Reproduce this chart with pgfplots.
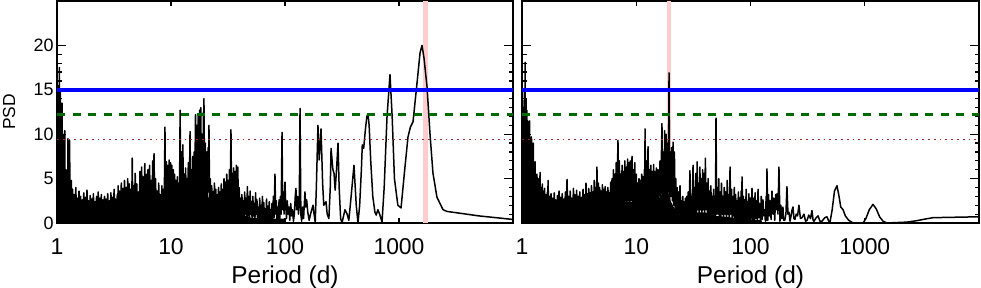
\documentclass[border=0pt]{standalone}
\usepackage{fontspec}
\setmainfont{Liberation Sans}
\usepackage{pgfplots}
\pgfplotsset{compat=1.18}
\definecolor{bandpink}{RGB}{255,205,205}
\definecolor{lvlblue}{RGB}{0,0,255}
\definecolor{lvlgreen}{RGB}{0,105,0}
\definecolor{lvlred}{RGB}{160,40,40}
\pgfplotsset{
 psdaxis/.style={
  scale only axis, height=222bp,
  xmin=0, xmax=4, ymin=0, ymax=25,
  xtick={0,1,2,3}, xticklabels={1,10,100,1000},
  ytick={0,5,10,15,20},
  minor y tick num=4,
  tick align=inside,
  major tick length=9bp, minor tick length=4.5bp,
  xtick style={/pgfplots/major tick length=5bp},
  axis line style={line width=1.4bp},
  tick style={line width=1.2bp, black},
  xticklabel style={font=\fontsize{23}{23}\selectfont, anchor=base, yshift=-31bp},
  yticklabel style={font=\fontsize{18}{18}\selectfont},
  xlabel={Period (d)},
  every axis x label/.style={at={(axis description cs:0.5,-0.2703)}, anchor=base, font=\fontsize{24.5}{24.5}\selectfont},
  no markers, clip=true,
 },
}
\begin{document}
\begin{tikzpicture}
\useasboundingbox (0,0) rectangle (981bp,288bp);
% ---------------- left panel ----------------
\begin{axis}[psdaxis, at={(57bp,65bp)}, anchor=south west, width=456bp,
  yticklabels={0,5,10,15,20},
  ylabel={PSD},
  every axis y label/.style={at={(axis description cs:-0.0921,0.5)}, rotate=90, anchor=base, font=\fontsize{17.5}{17.5}\selectfont}]
\addplot[draw=none, fill=bandpink] coordinates {(3.211,25)(3.254,25)} \closedcycle;
\addplot[draw=none, fill=black] coordinates {(0,8)(0.02,7)(0.05,5)(0.08,3.5)(0.11,2.5)(0.13,2.0)(0.3,1.8)(0.5,2.0)(0.6,2.3)(0.7,2.5)(0.8,3.0)(0.9,2.3)(0.95,3.0)(1.0,3.5)(1.07,3.0)(1.1,3.5)(1.15,3.5)(1.2,4.8)(1.28,5.5)(1.3,4.0)(1.34,2.5)(1.38,1.8)(1.45,2.0)(1.5,2.5)(1.6,2.5)(1.62,1.0)(1.7,0.6)(1.9,0.5)(2.0,0.5)} \closedcycle;
\addplot[black, line width=1.5bp, line join=round] coordinates {
(0.000,10)(0.004,3)(0.008,13)(0.011,2)(0.015,15.5)(0.018,3)(0.021,17.5)(0.025,2)(0.029,14.8)(0.033,1)(0.037,12)(0.040,2)(0.044,13.5)(0.048,1)(0.052,10)(0.056,0.5)(0.061,7)(0.064,1)(0.068,10.4)(0.071,0.3)(0.075,6)(0.078,1)(0.082,4.5)(0.085,0.5)(0.089,6)(0.092,1)(0.096,9.5)(0.100,0.3)(0.104,5)(0.107,1)(0.111,9.3)(0.114,0.5)(0.118,4.5)(0.122,1)(0.126,4.8)(0.132,0.5)
(0.137,3.8)(0.144,0.8)(0.151,3.2)(0.158,1)(0.165,4.0)(0.172,0.5)(0.179,2.8)(0.186,1)(0.193,3.6)(0.200,0.6)(0.207,3.0)(0.214,1)(0.221,2.6)(0.228,0.4)(0.235,3.4)(0.242,1)(0.249,2.9)(0.256,0.8)(0.263,3.7)(0.270,1)(0.277,2.5)(0.284,0.5)(0.291,3.1)(0.298,1)(0.305,2.7)(0.312,0.6)(0.319,3.3)(0.326,1)(0.333,2.4)(0.340,0.4)(0.347,3.0)(0.354,1)(0.361,3.5)(0.368,0.7)(0.375,2.8)(0.382,1)(0.389,3.2)(0.396,0.5)(0.403,2.6)(0.410,1)(0.417,3.0)(0.424,0.6)(0.431,2.7)(0.438,1)(0.445,3.3)(0.452,0.5)(0.459,2.5)(0.466,1)(0.473,3.4)(0.480,0.6)(0.487,2.9)(0.494,1)(0.501,3.8)(0.508,0.5)(0.515,2.7)(0.522,1)(0.529,3.2)(0.532,0.6)
(0.536,4.2)(0.543,1)(0.550,3.6)(0.557,0.8)(0.564,4.5)(0.571,1.2)(0.578,3.9)(0.585,1)(0.592,4.8)(0.599,1.5)(0.606,4.0)(0.613,1)(0.620,5.0)(0.627,1.5)(0.634,4.4)(0.641,1)(0.648,3.8)(0.655,1.2)(0.660,7.3)(0.665,1.5)(0.672,4.2)(0.679,1)(0.686,5.6)(0.693,1.5)(0.700,4.4)(0.707,1)(0.714,3.5)(0.721,1.2)(0.728,5.8)(0.735,1.5)(0.742,6.3)(0.749,2)(0.756,5.2)(0.763,1.5)(0.770,6.7)(0.777,2)(0.784,5.5)(0.791,1.5)(0.798,6.0)(0.805,2)(0.812,6.5)(0.819,1.5)(0.826,4.8)(0.833,2)(0.840,7.0)(0.846,2)(0.851,7.8)(0.857,2)(0.864,5.0)(0.871,1.5)(0.878,3.6)(0.885,1)(0.892,4.5)(0.899,1.5)(0.906,3.2)(0.913,1)(0.920,4.2)(0.927,1.5)(0.934,3.8)(0.940,1)(0.947,10.8)(0.953,1.5)(0.960,6.9)(0.966,2)(0.972,6.5)(0.978,2)(0.984,7.1)(0.990,2)(0.996,6.8)
(1.002,2)(1.008,6.5)(1.014,1.5)(1.020,6.0)(1.026,2)(1.032,5.5)(1.038,1.5)(1.044,4.8)(1.050,1.5)(1.056,5.2)(1.062,1.5)(1.068,4.5)(1.074,2)(1.080,12.7)(1.086,1.5)(1.092,8.0)(1.098,3)(1.104,8.8)(1.110,2)(1.116,5.5)(1.122,2)(1.128,6.2)(1.134,2.5)(1.140,5.0)(1.146,2)(1.152,6.8)(1.160,2.5)(1.167,10.3)(1.173,3)(1.179,6.0)(1.185,3)(1.191,7.5)(1.197,3)(1.203,8.0)(1.209,4)(1.215,12.2)(1.221,4)(1.227,11.0)(1.233,4.5)(1.239,12.0)(1.245,5)(1.251,12.7)(1.256,4.5)(1.261,13.0)(1.267,5)(1.273,10.0)(1.279,4.5)(1.285,12.5)(1.287,5)(1.289,14.0)(1.295,4)(1.301,9.0)(1.307,3)(1.313,8.0)(1.319,3)(1.325,8.5)(1.329,3.5)(1.333,11.0)(1.339,2)(1.345,5.0)(1.351,1.5)(1.357,4.2)(1.363,1)(1.369,3.5)(1.375,1.5)(1.381,4.5)(1.387,1)(1.393,3.8)(1.399,1.5)(1.405,3.2)(1.411,1)(1.417,4.0)(1.423,1.2)(1.429,3.5)(1.435,1)(1.441,4.4)(1.447,1.5)(1.453,3.8)(1.459,1)(1.465,5.0)(1.471,1.5)(1.477,4.6)(1.483,1)(1.489,5.5)(1.495,1.5)
(1.501,4.8)(1.507,1.5)(1.513,6.0)(1.519,2)(1.526,10.5)(1.532,2)(1.538,5.6)(1.544,2)(1.550,6.2)(1.556,1.5)(1.562,5.8)(1.568,2)(1.574,6.5)(1.580,1.5)(1.586,6.3)(1.592,1.5)(1.598,4.0)(1.604,1)(1.610,2.8)(1.616,0.5)(1.622,3.2)(1.628,1)(1.634,2.5)(1.640,0.4)(1.646,3.5)(1.652,1)(1.658,2.8)(1.664,0.3)(1.670,4.1)(1.676,0.8)(1.682,3.0)(1.688,0.3)(1.694,3.6)(1.700,1)(1.706,2.4)(1.712,0.2)(1.718,3.0)(1.724,0.8)(1.730,2.2)(1.736,0.3)(1.742,3.4)(1.748,1)(1.754,2.6)(1.760,0.2)(1.766,1.8)(1.772,0.5)(1.778,2.8)(1.784,0.1)(1.790,2.0)(1.796,0.6)(1.802,3.0)(1.808,0.2)(1.814,2.3)(1.820,0.5)(1.826,1.6)(1.832,0.1)(1.838,2.7)(1.844,0.4)(1.850,1.9)(1.856,0.2)(1.862,2.4)(1.868,0.5)(1.874,1.5)(1.880,0.1)(1.886,2.2)(1.892,0.4)(1.898,3.0)(1.904,0.6)(1.912,5.5)(1.918,1)(1.924,2.5)(1.930,0.3)(1.936,1.8)(1.942,0.5)(1.948,2.6)(1.954,0.4)(1.960,3.0)(1.966,1)(1.974,10.2)(1.980,1.5)(1.986,3.5)(1.992,1)(2.000,4.6)
(2.006,2.0)(2.013,0.5)(2.020,2.5)(2.027,1.0)(2.035,1.8)(2.042,0.3)(2.050,2.2)(2.058,0.8)(2.066,1.5)(2.074,0.2)(2.082,1.0)(2.090,3.0)(2.096,3.9)(2.102,1.5)(2.110,3.0)(2.118,1.0)(2.125,2.0)(2.132,12.9)(2.139,1.0)(2.146,0.2)(2.155,1.8)(2.163,0.5)(2.175,3.5)(2.182,1.8)(2.190,2.6)(2.200,1.2)(2.212,0.3)(2.224,1.0)(2.235,1.5)(2.246,2.0)(2.255,1.0)(2.265,0.1)(2.275,4.0)(2.289,11.0)(2.300,7.1)(2.316,10.6)(2.330,4.5)(2.340,2.0)(2.351,2.2)(2.360,2.4)(2.370,1.0)(2.385,0.5)(2.397,4.0)(2.404,8.4)(2.420,6.0)(2.430,5.6)(2.440,3.7)(2.452,6.0)(2.465,9.0)(2.475,4.0)(2.488,0.5)(2.500,0.0)(2.526,1.5)(2.545,1.0)(2.560,0.3)(2.580,3.0)(2.605,6.5)(2.625,2.0)(2.640,0.0)(2.655,2.0)(2.670,6.0)(2.678,8.8)(2.690,8.4)(2.705,10.5)(2.718,12.0)(2.728,12.3)(2.738,11.0)(2.752,7.0)(2.770,3.0)(2.789,1.2)(2.800,0.9)(2.815,1.5)(2.830,1.0)(2.851,0.1)(2.870,4.0)(2.895,12.0)(2.921,16.7)(2.940,12.0)(2.960,5.0)(2.990,2.0)(3.018,1.7)(3.050,6.0)(3.079,9.7)(3.100,10.8)(3.123,11.4)(3.160,16.0)(3.185,19.2)(3.202,20.0)(3.220,18.5)(3.246,15.3)(3.272,10.0)(3.298,5.6)(3.333,2.9)(3.386,1.5)(3.421,1.3)(3.535,1.1)(3.700,0.8)(3.850,0.6)(4.000,0.4)
};
\addplot[lvlred, line width=1.8bp, dash pattern=on 1.8bp off 4bp] coordinates {(0,9.4)(4,9.4)};
\addplot[lvlgreen, line width=3bp, dash pattern=on 8bp off 7.5bp] coordinates {(0,12.2)(4,12.2)};
\addplot[lvlblue, line width=4.5bp] coordinates {(0,15)(4,15)};
\end{axis}
% ---------------- right panel ----------------
\begin{axis}[psdaxis, at={(522bp,65bp)}, anchor=south west, width=457bp,
  yticklabels={}]
\addplot[draw=none, fill=bandpink] coordinates {(1.269,25)(1.308,25)} \closedcycle;
\addplot[draw=none, fill=black] coordinates {(0,8)(0.02,7)(0.05,5)(0.08,3.5)(0.12,2.5)(0.15,2.0)(0.6,2.0)(0.8,2.5)(0.85,2.5)(1.0,2.3)(1.2,2.8)(1.24,3.5)(1.28,3.5)(1.3,2.5)(1.34,1.5)(1.4,0.6)(1.5,1.2)(1.6,1.2)(1.7,0.8)(2.0,0.4)(2.1,0.3)} \closedcycle;
\addplot[black, line width=1.5bp, line join=round] coordinates {
(0.000,11)(0.004,10)(0.008,1)(0.012,13)(0.016,2)(0.020,15)(0.024,3)(0.027,18.1)(0.031,2)(0.035,14)(0.039,1)(0.043,12.7)(0.047,2)(0.051,11.5)(0.055,0.5)(0.059,9)(0.063,1)(0.067,11.5)(0.071,0.5)(0.075,8)(0.079,1)(0.083,9.7)(0.087,0.5)(0.091,7.5)(0.095,1)(0.099,9.0)(0.103,0.5)(0.107,6.0)(0.111,1)(0.115,6.9)(0.119,0.5)(0.123,5.0)(0.127,1)(0.131,5.5)(0.135,0.5)(0.139,4.6)(0.143,1)(0.147,5.0)(0.151,0.5)
(0.158,5.7)(0.163,1)(0.168,4.0)(0.173,0.5)(0.178,4.4)(0.183,1)(0.188,3.6)(0.193,0.5)(0.198,3.9)(0.203,1)(0.210,3.2)(0.217,0.5)(0.222,3.5)(0.225,1)(0.228,4.8)(0.234,0.8)(0.240,3.0)(0.247,0.5)(0.254,3.3)(0.261,1)(0.268,2.8)(0.275,0.4)(0.282,3.4)(0.289,1)(0.296,2.6)(0.303,0.5)(0.310,3.1)(0.317,1)(0.324,3.6)(0.331,0.4)(0.338,2.9)(0.345,1)(0.352,3.3)(0.359,0.5)(0.366,2.7)(0.373,1)(0.380,3.5)(0.387,0.5)(0.394,4.9)(0.401,1)(0.408,3.0)(0.415,0.4)(0.422,3.6)(0.429,1)(0.436,2.8)(0.443,0.5)(0.450,3.9)(0.457,1)(0.464,3.2)(0.471,0.5)(0.478,3.7)(0.485,1)(0.492,3.0)(0.499,0.4)
(0.506,3.5)(0.513,1)(0.520,2.9)(0.527,0.5)(0.534,3.8)(0.541,1)(0.548,3.2)(0.554,0.5)(0.560,4.5)(0.566,1)(0.572,3.3)(0.578,0.6)(0.584,3.9)(0.590,1)(0.596,3.4)(0.602,0.5)(0.608,4.2)(0.614,1)(0.620,3.5)(0.626,1)(0.632,4.8)(0.638,1.5)(0.644,4.0)(0.650,1)(0.656,6.3)(0.662,1.5)(0.668,4.5)(0.674,1)(0.680,4.0)(0.686,1.5)(0.692,3.6)(0.698,1)(0.704,4.3)(0.710,1.5)(0.716,3.8)(0.722,1)(0.728,4.1)(0.734,1.5)(0.740,3.5)(0.746,1)(0.752,4.0)(0.758,1.5)(0.764,3.4)(0.770,1)(0.776,4.6)(0.782,1.5)(0.788,5.0)(0.794,2)(0.800,6.0)(0.806,2)(0.812,5.5)(0.818,1.5)(0.824,6.8)(0.830,2)(0.840,9.3)(0.846,2)(0.852,7.0)(0.858,2)(0.864,5.5)(0.870,2)(0.876,6.5)(0.882,2)(0.888,5.8)(0.894,2)(0.900,7.0)(0.906,2.5)(0.912,6.3)(0.918,2)(0.924,7.2)(0.930,2.5)(0.936,6.8)(0.942,2)(0.948,7.0)(0.954,2.5)(0.963,7.5)(0.969,2)(0.975,6.0)(0.981,2)(0.987,6.8)(0.993,2)
(1.000,5.5)(1.006,1.5)(1.012,4.5)(1.018,1.5)(1.024,5.0)(1.030,2)(1.036,4.8)(1.042,1.5)(1.048,5.5)(1.054,2)(1.060,5.2)(1.066,1.5)(1.072,6.0)(1.074,2)(1.077,10.6)(1.083,2)(1.090,7.0)(1.097,2)(1.103,8.6)(1.110,2)(1.116,6.0)(1.122,2)(1.128,6.5)(1.134,2)(1.140,5.8)(1.146,2)(1.152,6.6)(1.158,2)(1.164,5.8)(1.170,2)(1.176,6.2)(1.182,2.5)(1.190,6.0)(1.197,2.5)(1.208,7.0)(1.214,3)(1.225,11.2)(1.231,3)(1.237,8.0)(1.243,3.5)(1.249,10.4)(1.255,3.5)(1.262,10.0)(1.269,3.5)(1.275,9.0)(1.281,3.5)(1.287,16.9)(1.292,2)(1.298,8.0)(1.304,3)(1.310,8.5)(1.316,2.5)(1.322,9.1)(1.328,2)(1.334,8.0)(1.340,1.5)(1.346,5.0)(1.352,1)(1.358,4.0)(1.364,0.5)(1.370,3.5)(1.376,1)(1.383,4.2)(1.389,0.5)(1.395,2.5)(1.401,0.3)(1.407,3.0)(1.413,0.5)(1.419,2.4)(1.425,0.3)(1.431,2.8)(1.437,0.5)(1.443,3.0)(1.449,0.3)(1.455,3.5)(1.461,0.5)(1.470,5.9)(1.476,1)(1.482,3.0)(1.488,0.5)(1.497,6.5)
(1.503,1)(1.509,4.0)(1.515,1)(1.521,5.6)(1.527,1)(1.533,6.9)(1.539,1.5)(1.545,4.5)(1.551,1)(1.557,6.3)(1.563,1.5)(1.569,5.0)(1.575,1)(1.581,6.0)(1.587,1.5)(1.593,5.6)(1.599,1)(1.605,7.3)(1.611,1.5)(1.617,4.5)(1.623,1)(1.629,5.0)(1.635,0.8)(1.641,3.6)(1.647,1)(1.653,4.2)(1.659,0.6)(1.665,3.0)(1.671,1)(1.677,3.8)(1.683,0.5)(1.689,3.0)(1.693,0.5)(1.698,11.8)(1.704,1.0)(1.710,4.0)(1.716,1.0)(1.722,5.0)(1.728,0.8)(1.734,3.5)(1.740,0.5)(1.746,4.5)(1.752,1)(1.758,3.0)(1.764,0.5)(1.770,4.0)(1.777,1)(1.784,3.5)(1.790,0.5)(1.796,4.8)(1.802,1)(1.808,3.2)(1.814,0.5)(1.821,6.3)(1.827,1)(1.834,3.8)(1.840,0.4)(1.846,3.0)(1.852,0.8)(1.858,4.0)(1.864,0.5)(1.870,3.2)(1.876,0.4)(1.882,2.5)(1.888,0.6)(1.894,3.5)(1.900,0.3)(1.906,2.8)(1.912,0.5)(1.918,3.6)(1.922,0.5)(1.926,5.2)(1.932,0.4)(1.938,3.0)(1.944,0.3)(1.950,2.6)(1.956,0.5)(1.962,3.8)(1.968,0.3)(1.974,2.4)(1.980,0.5)(1.986,3.3)(1.992,0.2)(1.998,2.8)
(2.004,0.4)(2.013,3.9)(2.020,0.3)(2.027,2.8)(2.034,0.2)(2.040,3.4)(2.047,0.5)(2.054,2.5)(2.060,0.2)(2.066,3.8)(2.073,0.6)(2.080,2.2)(2.087,0.3)(2.094,3.0)(2.101,0.4)(2.109,2.6)(2.116,0.8)(2.123,1.5)(2.130,0.2)(2.137,3.0)(2.140,0.3)(2.144,6.1)(2.151,0.3)(2.158,3.2)(2.165,0.8)(2.172,2.5)(2.180,0.4)(2.188,3.6)(2.196,1.0)(2.204,2.8)(2.212,0.3)(2.220,3.2)(2.226,1.5)(2.232,3.3)(2.240,1.0)(2.249,6.3)(2.258,0.2)(2.266,2.0)(2.274,0.5)(2.284,1.8)(2.290,0.3)(2.300,0.3)(2.310,1.0)(2.319,4.1)(2.328,1.0)(2.337,1.2)(2.346,0.2)(2.355,0.8)(2.364,1.5)(2.372,1.8)(2.380,0.5)(2.389,0.4)(2.400,1.0)(2.412,0.8)(2.424,2.0)(2.437,0.5)(2.451,0.6)(2.468,1.0)(2.482,0.2)(2.495,0.3)(2.510,0.9)(2.525,0.5)(2.538,1.4)(2.548,0.3)(2.556,0.2)(2.575,0.6)(2.591,0.8)(2.608,0.2)(2.626,0.2)(2.650,0.6)(2.670,0.7)(2.685,0.2)(2.696,0.1)(2.715,1.5)(2.735,3.6)(2.757,4.2)(2.775,3.0)(2.790,1.8)(2.810,1.5)(2.830,0.8)(2.860,0.3)(2.897,0.0)(2.940,0.0)(2.985,0.0)(3.010,0.5)(3.040,1.5)(3.072,2.1)(3.100,1.6)(3.130,0.7)(3.160,0.2)(3.195,0.0)(3.280,0.05)(3.370,0.1)(3.450,0.25)(3.510,0.4)(3.597,0.6)(3.800,0.65)(4.000,0.7)
};
\addplot[lvlred, line width=1.8bp, dash pattern=on 1.8bp off 4bp] coordinates {(0,9.4)(4,9.4)};
\addplot[lvlgreen, line width=3bp, dash pattern=on 8bp off 7.5bp] coordinates {(0,12.2)(4,12.2)};
\addplot[lvlblue, line width=4.5bp] coordinates {(0,15)(4,15)};
\end{axis}
\end{tikzpicture}
\end{document}
